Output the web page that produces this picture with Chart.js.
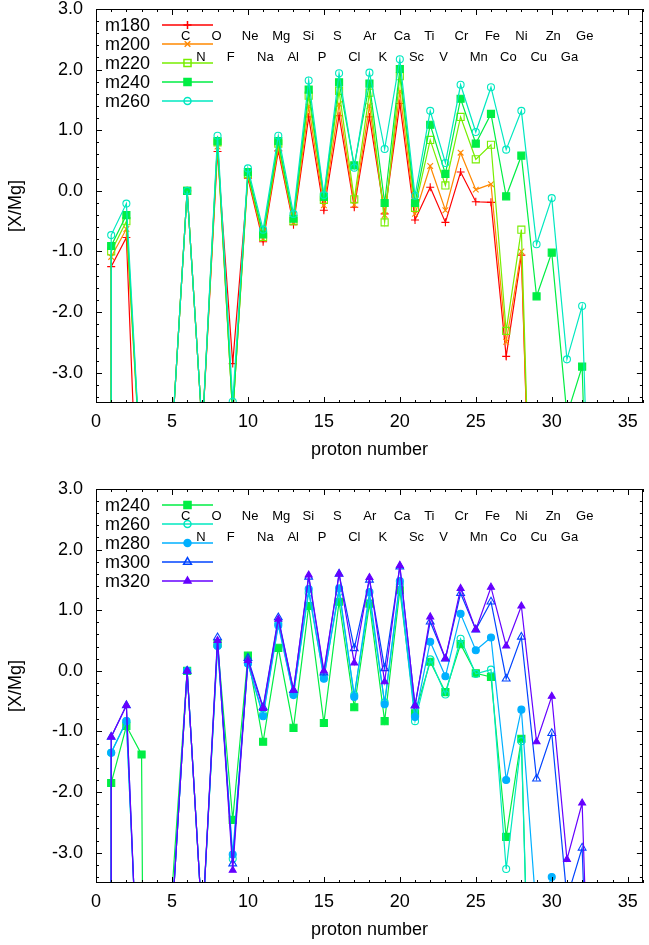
<!DOCTYPE html>
<html>
<head>
<meta charset="utf-8">
<script src="https://cdn.jsdelivr.net/npm/chart.js@4/dist/chart.umd.min.js"></script>
<style>
  html, body { margin: 0; padding: 0; background: #fff; }
  canvas { position: absolute; left: 0; }
</style>
</head>
<body>
<canvas id="c1" width="649" height="472" style="top:0px"></canvas>
<canvas id="c2" width="649" height="473" style="top:472px"></canvas>
<script>
// ---------- data ----------
// proton numbers (Z=1 appears twice: first entry is an off-scale low point)
const protonNumber = [1, 1, 2, 3, 4, 5, 6, 7, 8, 9, 10, 11, 12, 13, 14, 15, 16, 17, 18, 19, 20, 21, 22, 23, 24, 25, 26, 27, 28, 29, 30, 31, 32, 33];

// top panel
const m180 = [-9, -1.25, -0.77, -7.1, -9, -4.1, 0.0, -3.95, 0.65, -2.85, 0.21, -0.84, 0.66, -0.56, 1.22, -0.32, 1.24, -0.27, 1.22, -0.38, 1.44, -0.48, 0.06, -0.52, 0.31, -0.18, -0.19, -2.73, -1.06, -9, -9, -9, -9, -9];
const m200 = [-9, -1.09, -0.63, -4.8, -9, -4.1, 0.0, -3.95, 0.73, -3.7, 0.25, -0.79, 0.72, -0.52, 1.39, -0.24, 1.43, -0.23, 1.40, -0.40, 1.64, -0.38, 0.41, -0.32, 0.63, 0.02, 0.11, -2.49, -1.00, -9, -9, -9, -9, -9];
const m220 = [-9, -1.00, -0.50, -4.8, -9, -4.1, 0.0, -3.95, 0.80, -3.7, 0.28, -0.76, 0.78, -0.50, 1.57, -0.15, 1.65, -0.14, 1.62, -0.52, 1.89, -0.28, 0.84, 0.09, 1.22, 0.52, 0.76, -2.31, -0.64, -9, -9, -9, -9, -9];
const m240top = [-9, -0.91, -0.40, -4.8, -9, -4.1, 0.0, -3.95, 0.82, -3.7, 0.31, -0.72, 0.82, -0.46, 1.67, -0.10, 1.79, 0.42, 1.77, -0.20, 2.01, -0.20, 1.09, 0.28, 1.52, 0.78, 1.27, -0.09, 0.58, -1.74, -1.02, -3.7, -2.90, -11];
const m260top = [-9, -0.73, -0.21, -4.8, -9, -4.1, 0.0, -3.95, 0.91, -3.48, 0.37, -0.64, 0.91, -0.38, 1.82, -0.07, 1.94, 0.38, 1.95, 0.69, 2.17, -0.08, 1.32, 0.46, 1.75, 0.97, 1.71, 0.68, 1.32, -0.88, -0.12, -2.78, -1.90, -10];

// bottom panel
const m240bot = [-9, -1.85, -0.91, -1.38, -40, -3.65, 0.0, -4.2, 0.45, -2.46, 0.25, -1.17, 0.38, -0.94, 1.07, -0.86, 1.14, -0.60, 1.11, -0.83, 1.33, -0.70, 0.15, -0.35, 0.44, -0.04, -0.10, -2.74, -1.12, -10, -10, -10, -10, -10];
const m260bot = [-9, -1.35, -0.83, -6.4, -9, -4.1, 0.0, -4.2, 0.42, -3.10, 0.12, -0.72, 0.78, -0.38, 1.29, -0.10, 1.30, -0.40, 1.19, -0.52, 1.42, -0.83, 0.19, -0.39, 0.53, -0.05, 0.02, -3.27, -1.16, -10, -10, -10, -10, -10];
const m280 = [-9, -1.35, -0.83, -6.4, -9, -4.1, 0.0, -4.2, 0.41, -3.03, 0.12, -0.75, 0.75, -0.40, 1.35, -0.13, 1.36, -0.43, 1.30, -0.55, 1.48, -0.76, 0.48, -0.09, 0.94, 0.34, 0.55, -1.80, -0.64, -4.04, -3.40, -10, -10, -10];
const m300 = [-9, -1.09, -0.57, -6.7, -9, -4.1, 0.0, -4.2, 0.55, -3.18, 0.21, -0.60, 0.88, -0.32, 1.55, -0.03, 1.60, 0.37, 1.50, 0.04, 1.72, -0.57, 0.81, 0.20, 1.28, 0.68, 1.14, -0.13, 0.56, -1.78, -1.03, -3.75, -2.92, -10];
const m320 = [-9, -1.09, -0.57, -6.7, -9, -4.1, 0.0, -4.2, 0.50, -3.29, 0.17, -0.62, 0.85, -0.32, 1.58, 0.00, 1.60, 0.13, 1.54, -0.18, 1.74, -0.58, 0.89, 0.20, 1.36, 0.68, 1.38, 0.41, 1.07, -1.17, -0.42, -3.11, -2.18, -10];

// element labels
const elemRow1 = ['C', 'O', 'Ne', 'Mg', 'Si', 'S', 'Ar', 'Ca', 'Ti', 'Cr', 'Fe', 'Ni', 'Zn', 'Ge'];
const elemRow1Z = [6, 8, 10, 12, 14, 16, 18, 20, 22, 24, 26, 28, 30, 32];
const elemRow2 = ['N', 'F', 'Na', 'Al', 'P', 'Cl', 'K', 'Sc', 'V', 'Mn', 'Co', 'Cu', 'Ga'];
const elemRow2Z = [7, 9, 11, 13, 15, 17, 19, 21, 23, 25, 27, 29, 31];

// ticks
const xTicks = [0, 5, 10, 15, 20, 25, 30, 35];
const yTicks = [-3, -2, -1, 0, 1, 2, 3];
const xTitle = 'proton number';
const yTitle = '[X/Mg]';

// ---------- helpers ----------
const FONT = '"Liberation Sans", Arial, Helvetica, sans-serif';
Chart.defaults.font.family = FONT;
Chart.defaults.color = '#000';

function pts(vals) { return vals.map((v, i) => ({ x: protonNumber[i], y: v })); }

function ds(label, vals, color, style, filled, radius, idx) {
  return {
    label: label,
    data: pts(vals),
    borderColor: color,
    backgroundColor: color,
    borderWidth: 1.2,
    pointStyle: style,
    pointRadius: radius,
    pointHoverRadius: radius,
    pointBorderWidth: 1.1,
    pointBorderColor: color,
    pointBackgroundColor: filled ? color : 'rgba(0,0,0,0)',
    showLine: true,
    tension: 0,
    order: 10 - idx
  };
}

const framePlugin = {
  id: 'frame',
  afterDraw(chart) {
    const { ctx, chartArea: a, scales: { x, y } } = chart;
    ctx.save();
    ctx.strokeStyle = '#000';
    ctx.lineWidth = 1;
    ctx.beginPath();
    for (let v = 0; v <= 36; v++) {
      const px = Math.round(x.getPixelForValue(v)) + 0.5;
      const len = v % 5 === 0 ? 6 : 3;
      ctx.moveTo(px, a.bottom); ctx.lineTo(px, a.bottom - len);
      ctx.moveTo(px, a.top); ctx.lineTo(px, a.top + len);
    }
    for (let k = -17; k <= 15; k++) {
      const py = Math.round(y.getPixelForValue(k * 0.2)) + 0.5;
      const len = k % 5 === 0 ? 6 : 3;
      ctx.moveTo(a.left, py); ctx.lineTo(a.left + len, py);
      ctx.moveTo(a.right, py); ctx.lineTo(a.right - len, py);
    }
    ctx.stroke();
    ctx.strokeRect(Math.round(a.left) + 0.5, Math.round(a.top) + 0.5,
                   Math.round(a.right - a.left) - 1, Math.round(a.bottom - a.top) - 1);
    ctx.restore();
  }
};

const labelPlugin = {
  id: 'elemLabels',
  afterDatasetsDraw(chart) {
    const { ctx, scales: { x, y } } = chart;
    ctx.save();
    ctx.fillStyle = '#000';
    ctx.font = '13px ' + FONT;
    ctx.textAlign = 'left';
    ctx.textBaseline = 'middle';
    elemRow1.forEach((t, i) => ctx.fillText(t, x.getPixelForValue(elemRow1Z[i] - 0.4), y.getPixelForValue(2.55)));
    elemRow2.forEach((t, i) => ctx.fillText(t, x.getPixelForValue(elemRow2Z[i] - 0.4), y.getPixelForValue(2.20)));
    ctx.restore();
  }
};

const keyPlugin = {
  id: 'key',
  afterDatasetsDraw(chart) {
    const { ctx, chartArea: a } = chart;
    ctx.save();
    chart.data.datasets.forEach((d, i) => {
      const yy = Math.round(a.top + 15.5 + 19 * i);
      ctx.fillStyle = '#000';
      ctx.font = '18px ' + FONT;
      ctx.textAlign = 'right';
      ctx.textBaseline = 'middle';
      ctx.fillText(d.label, a.left + 54, yy + 1);
      ctx.strokeStyle = d.borderColor;
      ctx.lineWidth = 1.5;
      ctx.beginPath();
      ctx.moveTo(a.left + 66, yy);
      ctx.lineTo(a.left + 117, yy);
      ctx.stroke();
      ctx.fillStyle = d.pointBackgroundColor;
      ctx.strokeStyle = d.pointBorderColor;
      Chart.helpers.drawPoint(ctx, { pointStyle: d.pointStyle, radius: d.pointRadius, borderWidth: 1.1, rotation: 0 }, a.left + 91.5, yy);
    });
    ctx.restore();
  }
};

function makeChart(id, datasets, padTop, xHeight, titlePadBottom) {
  return new Chart(document.getElementById(id), {
    type: 'scatter',
    data: { datasets: datasets },
    options: {
      responsive: false,
      animation: false,
      devicePixelRatio: 1,
      layout: { padding: { left: 0, right: 1, top: padTop, bottom: 0 } },
      plugins: { legend: { display: false }, tooltip: { enabled: false } },
      elements: { line: { tension: 0 } },
      scales: {
        x: {
          type: 'linear', min: 0, max: 36,
          grid: { display: false, drawTicks: false },
          border: { display: false },
          afterBuildTicks: s => { s.ticks = xTicks.map(v => ({ value: v })); },
          afterFit: s => { s.height = xHeight; s.paddingLeft = 0; s.paddingRight = 0; },
          ticks: { font: { size: 18 }, padding: 8, maxRotation: 0, autoSkip: false, callback: v => String(v) },
          title: { display: true, text: xTitle, font: { size: 18 }, padding: { top: 0, bottom: titlePadBottom } }
        },
        y: {
          type: 'linear', min: -3.5, max: 3.0,
          grid: { display: false, drawTicks: false },
          border: { display: false },
          afterBuildTicks: s => { s.ticks = yTicks.map(v => ({ value: v })); },
          afterFit: s => { s.width = 96; s.paddingTop = 0; s.paddingBottom = 0; },
          ticks: { font: { size: 18 }, padding: 13, autoSkip: false, callback: v => Number(v).toFixed(1) },
          title: { display: true, text: yTitle, font: { size: 18 }, padding: { top: 5, bottom: 0 } }
        }
      }
    },
    plugins: [labelPlugin, keyPlugin, framePlugin]
  });
}

const C180 = '#ff0000', C200 = '#ff8800', C220 = '#77ee00', C240 = '#00ee44', C260 = '#00e8c0',
      C280 = '#00b0ff', C300 = '#0044ff', C320 = '#6600ff';

makeChart('c1', [
  ds('m180', m180, C180, 'cross', false, 4, 0),
  ds('m200', m200, C200, 'crossRot', false, 4, 1),
  ds('m220', m220, C220, 'rect', false, 5, 2),
  ds('m240', m240top, C240, 'rect', true, 5, 3),
  ds('m260', m260top, C260, 'circle', false, 3.5, 4)
], 9, 69, 11);

makeChart('c2', [
  ds('m240', m240bot, C240, 'rect', true, 5, 0),
  ds('m260', m260bot, C260, 'circle', false, 3.5, 1),
  ds('m280', m280, C280, 'circle', true, 3.5, 2),
  ds('m300', m300, C300, 'triangle', false, 4.5, 3),
  ds('m320', m320, C320, 'triangle', true, 4, 4)
], 17, 62, 4);
</script>
</body>
</html>
